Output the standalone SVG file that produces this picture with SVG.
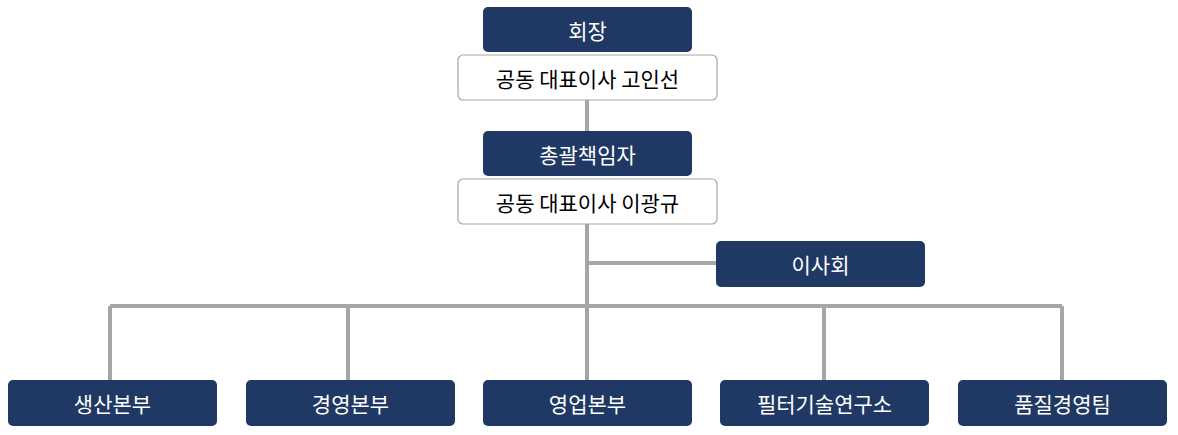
<svg xmlns="http://www.w3.org/2000/svg" width="1178" height="435" viewBox="0 0 1178 435">
<style>
.d{fill:#203864;}
.w{fill:#fff;stroke:#a6a6a6;stroke-width:1.2;}
.t{font-family:"Noto Sans CJK KR","Noto Sans",sans-serif;font-size:21px;text-anchor:middle;dominant-baseline:central;}
.tw{fill:#fff;}
.tb{fill:#000;}
.c{stroke:#a6a6a6;stroke-width:4;fill:none;}
</style>
<rect width="1178" height="435" fill="#fff"/>
<g id="connectors">
<path class="c" d="M587 100V131M587 224V306M587 263H716M110 306H1062M110 306V380M348 306V380M587 306V380M824 306V380M1062 306V380"/>
</g>
<g id="chairman"><rect class="d" x="483" y="7" width="209" height="45" rx="5"/><text class="t tw" x="587.5" y="29.5">회장</text></g>
<g id="ceo1"><rect class="w" x="458" y="55" width="259" height="45" rx="5"/><text class="t tb" x="587.5" y="77.5">공동 대표이사 고인선</text></g>
<g id="chief"><rect class="d" x="483" y="131" width="209" height="45" rx="5"/><text class="t tw" x="587.5" y="153.5">총괄책임자</text></g>
<g id="ceo2"><rect class="w" x="458" y="179" width="259" height="45" rx="5"/><text class="t tb" x="587.5" y="201.5">공동 대표이사 이광규</text></g>
<g id="board"><rect class="d" x="716" y="241" width="209" height="46" rx="5"/><text class="t tw" x="820.5" y="264">이사회</text></g>
<g id="prod"><rect class="d" x="8" y="380" width="209" height="46" rx="5"/><text class="t tw" x="112.5" y="403">생산본부</text></g>
<g id="mgmt"><rect class="d" x="246" y="380" width="209" height="46" rx="5"/><text class="t tw" x="350.5" y="403">경영본부</text></g>
<g id="sales"><rect class="d" x="483" y="380" width="209" height="46" rx="5"/><text class="t tw" x="587.5" y="403">영업본부</text></g>
<g id="rnd"><rect class="d" x="720" y="380" width="209" height="46" rx="5"/><text class="t tw" x="824.5" y="403">필터기술연구소</text></g>
<g id="qm"><rect class="d" x="958" y="380" width="209" height="46" rx="5"/><text class="t tw" x="1062.5" y="403">품질경영팀</text></g>
</svg>
